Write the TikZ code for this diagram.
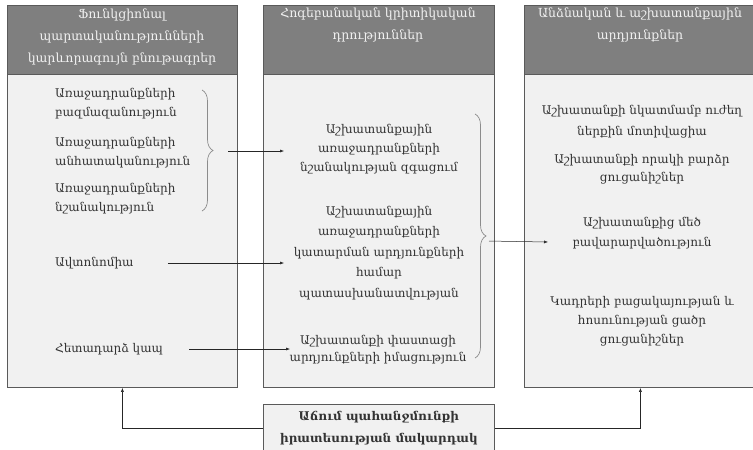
\documentclass[tikz,border=0pt]{standalone}
\usepackage{fontspec}
\setmainfont{DejaVu Serif}
\usetikzlibrary{arrows.meta,decorations.pathreplacing}

\definecolor{headgray}{HTML}{7F7F7F}
\definecolor{bodygray}{HTML}{F1F1F1}
\definecolor{edgegray}{HTML}{5A5A5A}

\begin{document}
\begin{tikzpicture}[x=1pt, y=-1pt,
  every node/.style={font=\fontsize{12}{19}\selectfont, inner sep=0pt, text=black!80},
  body/.style={draw=edgegray, fill=bodygray, line width=.8pt, anchor=north west},
  head/.style={draw=edgegray, fill=headgray, line width=.8pt, anchor=north west, minimum height=69pt},
  title/.style={text=bodygray, align=center, anchor=north, font=\fontsize{12.5}{22}\selectfont},
  item/.style={align=center},
  link/.style={-{Latex[length=4pt,width=3pt]}, line width=.5pt, black!85},
  curly/.style={decorate, decoration={brace, amplitude=11pt}, line width=.7pt, black!45}]

\useasboundingbox (0,0) rectangle (753,450);

% columns
\node[body, minimum width=230pt, minimum height=382pt] (core) at (7,5) {};
\node[body, minimum width=231pt, minimum height=382pt] (states) at (263,5) {};
\node[body, minimum width=232pt, minimum height=382pt] (outcomes) at (524,5) {};

\node[head, minimum width=230pt] (corehead) at (7,5) {};
\node[head, minimum width=231pt] (stateshead) at (263,5) {};
\node[head, minimum width=232pt] (outcomeshead) at (524,5) {};

\node[title] (coretitle) at (122,9) {Ֆունկցիոնալ\\պարտականությունների\\կարևորագույն բնութագրեր};
\node[title] (statestitle) at (378,8) {Հոգեբանական կրիտիկական\\դրություններ};
\node[title] (outcomestitle) at (640,8) {Անձնական և աշխատանքային\\արդյունքներ};

% job characteristics
\node[align=left, anchor=west] (variety) at (55,104) {Առաջադրանքների\\բազմազանություն};
\node[align=left, anchor=west] (identity) at (55,153) {Առաջադրանքների\\անհատականություն};
\node[align=left, anchor=west] (significance) at (55,199) {Առաջադրանքների\\նշանակություն};
\node[anchor=west] (autonomy) at (55,263) {Ավտոնոմիա};
\node[anchor=west] (feedback) at (55,349) {Հետադարձ կապ};

% critical states
\node[item] (meaning) at (379,149) {Աշխատանքային\\առաջադրանքների\\նշանակության զգացում};
\node[item, font=\fontsize{12}{20.5}\selectfont] (responsibility) at (379,253) {Աշխատանքային\\առաջադրանքների\\կատարման արդյունքների\\համար\\պատասխանատվության};
\node[item, font=\fontsize{12}{17}\selectfont] (knowledge) at (378,350) {Աշխատանքի փաստացի\\արդյունքների իմացություն};

% outcomes
\node[item, font=\fontsize{12}{21}\selectfont] (motivation) at (642,122) {Աշխատանքի նկատմամբ ուժեղ\\ներքին մոտիվացիա};
\node[item, font=\fontsize{12}{18}\selectfont] (quality) at (642,169) {Աշխատանքի որակի բարձր\\ցուցանիշներ};
\node[item, font=\fontsize{12}{20}\selectfont] (satisfaction) at (642,233) {Աշխատանքից մեծ\\բավարարվածություն};
\node[item] (turnover) at (642,321) {Կադրերի բացակայության և\\հոսունության ցածր\\ցուցանիշներ};

% moderator
\node[body, align=center, minimum width=231pt, minimum height=47pt,
  font=\fontsize{12}{22}\selectfont\bfseries] (growth) at (263,404) {Աճում պահանջմունքի\\իրատեսության մակարդակ};

% braces
\coordinate (b1top) at (202,90);
\coordinate (b1bot) at (202,211);
\coordinate (b1tip) at (213,151);
\coordinate (b2top) at (475,114);
\coordinate (b2bot) at (475,358);
\coordinate (b2tip) at (486,241);
\draw[curly] (b1top) -- (b1bot);
\draw[curly] (b2top) -- (b2bot);

% arrow heads
\coordinate (meaningin) at (284,151);
\coordinate (responsibilityin) at (284,264);
\coordinate (knowledgein) at (290,351);
\coordinate (outcomesin) at (548,242);

\draw[link, shorten <=15pt] (b1tip) -- (meaningin);
\draw[link, shorten <=34pt] (autonomy.east) -- (autonomy.east -| responsibilityin);
\draw[link, shorten <=26pt] (feedback.east) -- (feedback.east -| knowledgein);
\draw[link, shorten <=3pt] (b2tip) -- (outcomesin);
\draw[link] (growth.west) -| (core.south);
\draw[link] (growth.east) -| (outcomes.south);

\end{tikzpicture}
\end{document}
